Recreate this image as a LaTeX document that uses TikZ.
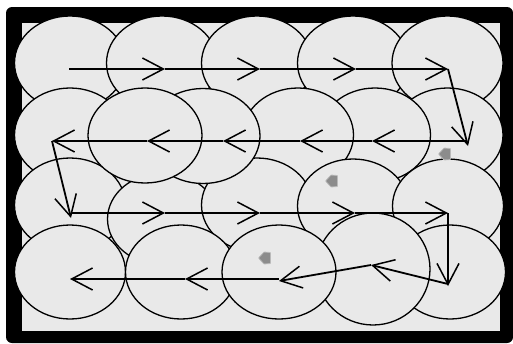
\documentclass[tikz,border=0pt]{standalone}
\usetikzlibrary{shapes.geometric,arrows.meta}
\definecolor{cellfill}{RGB}{233,233,233}
\definecolor{markgray}{RGB}{140,140,140}
\begin{document}
\begin{tikzpicture}[x=1pt,y=-1pt,
  ell/.style={ellipse, draw=black, line width=1.3pt, fill=cellfill, inner sep=0pt,
              minimum width=111pt, minimum height=94pt},
  flow/.style={line width=1.8pt, -{Straight Barb[length=21pt,width=22pt,line width=1.5pt]}},
  mk/.style={fill=markgray, draw=markgray!60!white, line width=0.8pt, rounded corners=0.6pt}]
\useasboundingbox (0,0) rectangle (513,343);
\fill[white] (0,0) rectangle (513,343);
\fill[black, rounded corners=6pt] (6,7) rectangle (513,343);
\fill[cellfill] (22,23) rectangle (500,331);
% row 1
\node[ell] (A1) at (70,63) {};
\node[ell] (A2) at (162,63) {};
\node[ell] (A3) at (257,63) {};
\node[ell] (A4) at (353,63) {};
\node[ell] (A5) at (447.5,63) {};
% row 2 (part)
\node[ell] (B6) at (447.5,135) {};
\node[ell] (B5) at (375,135) {};
\node[ell] (B4) at (298,135) {};
\node[ell] (B1) at (70,135) {};
% row 3
\node[ell] (C1) at (70,205) {};
\node[ell, minimum height=92pt] (C2) at (163,219) {};
\node[ell] (C3) at (257,205) {};
\node[ell] (C4) at (353,206) {};
\node[ell] (C5) at (448,206) {};
% row 2 (rest)
\node[ell, minimum width=114pt, minimum height=95pt] (B3) at (203,136) {};
\node[ell, minimum width=114pt, minimum height=95pt] (B2) at (145,135.5) {};
% row 4
\node[ell] (D1) at (70,272) {};
\node[ell] (D2) at (181,272) {};
\node[ell] (D5) at (450,272) {};
\node[ell, minimum width=114pt, minimum height=112pt] (D4) at (373,269) {};
\node[ell, minimum width=114pt] (D3) at (279,272) {};
% markers
\fill[mk, shift={(332,181)}] (-6.5,0) -- (-1,-6) -- (5.5,-5.5) -- (5.5,5.5) -- (-1,6) -- cycle;
\fill[mk, shift={(445,154)}] (-6.5,0) -- (-1,-6) -- (5.5,-5.5) -- (5.5,5.5) -- (-1,6) -- cycle;
\fill[mk, shift={(265,258)}] (-6.5,0) -- (-1,-6) -- (5.5,-5.5) -- (5.5,5.5) -- (-1,6) -- cycle;
% path coordinates
\coordinate (r1a) at (69,69);
\coordinate (r1b) at (165,69);
\coordinate (r1c) at (260,69);
\coordinate (r1d) at (356,69);
\coordinate (r1e) at (448,69);
\coordinate (t1) at (468,146);
\coordinate (r2a) at (467,141);
\coordinate (r2b) at (372,141);
\coordinate (r2c) at (300,141);
\coordinate (r2d) at (223,141);
\coordinate (r2e) at (147,141);
\coordinate (r2f) at (52,141);
\coordinate (t2) at (71,218);
\coordinate (r3a) at (71,213);
\coordinate (r3b) at (165,213);
\coordinate (r3c) at (260,213);
\coordinate (r3d) at (355,213);
\coordinate (r3e) at (448,213);
\coordinate (t3) at (448,286);
\coordinate (d1) at (448,284);
\coordinate (d2) at (371,265);
\coordinate (d3) at (279,281);
\coordinate (r4a) at (279,279);
\coordinate (r4b) at (185,279);
\coordinate (r4c) at (70,279);
% flow
\draw[flow] (r1a) -- (r1b);
\draw[flow] (r1b) -- (r1c);
\draw[flow] (r1c) -- (r1d);
\draw[flow] (r1d) -- (r1e);
\draw[flow] (r1e) -- (t1);
\draw[flow] (r2a) -- (r2b);
\draw[flow] (r2b) -- (r2c);
\draw[flow] (r2c) -- (r2d);
\draw[flow] (r2d) -- (r2e);
\draw[flow] (r2e) -- (r2f);
\draw[flow] (r2f) -- (t2);
\draw[flow] (r3a) -- (r3b);
\draw[flow] (r3b) -- (r3c);
\draw[flow] (r3c) -- (r3d);
\draw[flow] (r3d) -- (r3e);
\draw[flow] (r3e) -- (t3);
\draw[flow] (d1) -- (d2);
\draw[flow] (d2) -- (d3);
\draw[flow] (r4a) -- (r4b);
\draw[flow] (r4b) -- (r4c);
\end{tikzpicture}
\end{document}
